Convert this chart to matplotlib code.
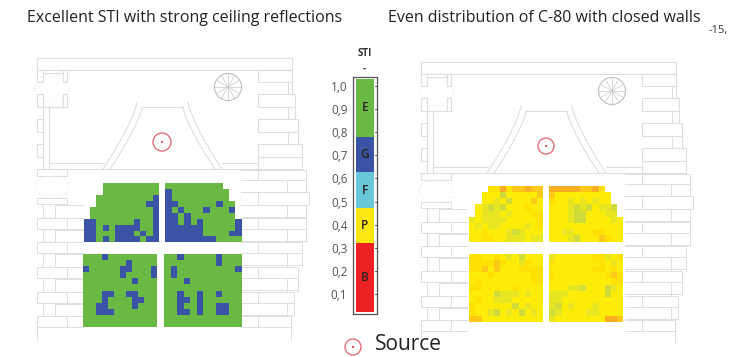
import numpy as np
import matplotlib
matplotlib.use("Agg")
import matplotlib.pyplot as plt
from matplotlib.colors import ListedColormap, BoundaryNorm
from matplotlib.patches import Rectangle, Circle

# ---- data ----
sti_classes = ["B", "P", "F", "G", "E"]
sti_edges = [0.02, 0.32, 0.47, 0.63, 0.78, 1.03]
sti_colors = ["#ed2024", "#fbe711", "#69c7da", "#3a53a4", "#6ab945"]
sti_ticks = [0.1, 0.2, 0.3, 0.4, 0.5, 0.6, 0.7, 0.8, 0.9, 1.0]

sti_upper_left = ["...EEEEEEEEE", "...EEEEEEEEE", "..EEEEEEEEEG", "..EEEEEEEEGG", ".EEEEEEEEEEG",
                  ".EEEEEEEEEEG", "GGEEEEEEGEEG", "GGEGEGGGGEEG", "GGEEEGGGEGEG", "GGEGEGGGGEGG"]
sti_upper_right = ["EEEEEEEEE...", "GEEEEEEEEE..", "GEEEEEEEEE..", "GGEEEEEEGEE.", "GEGEEEGEEEG.",
                   "GGEGEEEEEEE.", "GGEGEGEEEEEG", "GGGGGGEEEEEG", "GGGGGGEEEEGG", "GGGGGGGGEEEE"]
sti_lower_left = ["EEEGEEEEEEEE", "EEEEEEEGEEEE", "GEEEEEGGEEEG", "EEEEEEGEEEEG", "EEEEEEEEGEEE",
                  "EEEEEEEEEEEE", "EEEGGEEGGEEE", "EEEGEEEEGGEE", "EEGGEEEEGEEE", "EEGGGEEEEEEE",
                  "EEEEEEEEEEEE", "EEEEEEEEEEEE"]
sti_lower_right = ["EEGEEEEEGEEE", "EEEEEEEEGEEE", "EGEEEEEEEEEG", "EGEEEEEEEEEE", "EEEGEEEEEEEE",
                   "EEEEEEEEEEEE", "EEGEEGEEGEEE", "EEGGEGEEEEEE", "EEGEEGEEGGEE", "EEGGEGEEGGEE",
                   "EEEEEEEEEEEE", "EEEEEEEEEEEE"]

c80_upper_left = ["...335344544", "..2220222224", "..2212022242", ".21010222322", ".21112122233",
                  "121111222223", "212112222123", "223222101222", "223322111211"]
c80_upper_right = ["555554453...", "4222222222..", "3221212122..", "22210102110.", "22210022211.",
                   "222100222212", "222222222222", "221122233222", "222102224322"]
c80_lower_left = ["332232120222", "333343221322", "334242223333", "222322222233", "232222222233",
                  "332222232222", "222201112122", "232211122222", "322222202122", "322102120212",
                  "442222222222"]
c80_lower_right = ["122222233123", "322222223212", "222222233232", "322222222343", "222222222233",
                   "222110222012", "111222222022", "112222222222", "102122212222", "012222112222",
                   "122222222554"]
c80_colors = ["#cfdb38", "#e8e522", "#fdec08", "#ffe105", "#fdc816", "#f9ad20"]

title_left = "Excellent STI with strong ceiling reflections"
title_right = "Even distribution of C-80 with closed walls"
legend_label = "Source"
corner_label = "-15,"

# ---- setup ----
plt.rcParams["font.family"] = ["Open Sans", "DejaVu Sans"]
W, H = 729, 357
fig = plt.figure(figsize=(W / 100, H / 100), dpi=100, facecolor="white")
ax = fig.add_axes([0, 0, 1, 1])
ax.set_xlim(0, W)
ax.set_ylim(H, 0)
ax.axis("off")

LINE = "#dedede"


def rect(x0, y0, x1, y1, dx, dy, lw=0.8):
    ax.add_patch(Rectangle((x0 + dx, y0 + dy), x1 - x0, y1 - y0, fill=False, ec=LINE, lw=lw, zorder=1))


def seg(xs, ys, dx, dy, lw=0.8, color=LINE, **kw):
    ax.plot(np.asarray(xs) + dx, np.asarray(ys) + dy, color=color, lw=lw, zorder=1, **kw)


def plan(dx, dy):
    rect(37, 58, 292, 70, dx, dy)
    for y0, y1 in [(70, 82), (94, 107), (119, 132), (144, 157)]:
        rect(37, y0, 43, y1, dx, dy)
    for y0, y1 in [(70, 82), (94, 107)]:
        rect(63, y0, 67, y1, dx, dy)
    seg([43, 63], [73, 73], dx, dy)
    seg([37, 67], [107, 107], dx, dy)
    seg([43, 43], [107, 169], dx, dy)
    seg([49, 49], [107, 169], dx, dy)
    rect(37, 169, 67, 176, dx, dy)
    seg([49, 104], [163, 163], dx, dy)
    seg([49, 258], [169, 169], dx, dy)
    seg([222, 258], [163, 163], dx, dy)
    # right side rooms, upper part
    for x1, y0, y1 in [(292, 70, 82), (295, 94, 107), (298, 119, 132), (302, 144, 157), (302, 157, 169)]:
        rect(258, y0, x1, y1, dx, dy)
    seg([288, 288], [82, 94], dx, dy)
    seg([292, 292], [82, 94], dx, dy)
    seg([288, 288], [107, 119], dx, dy)
    seg([295, 295], [107, 119], dx, dy)
    seg([288, 288], [132, 144], dx, dy)
    seg([298, 298], [132, 144], dx, dy)
    # central nave trapezoid
    t = np.linspace(0, 1, 20)
    seg(142 - 32 * t ** 1.3, 107 + 62 * t, dx, dy)
    seg(183 + 32 * t ** 1.3, 107 + 62 * t, dx, dy)
    seg(137 - 34 * t ** 1.3, 102 + 67 * t, dx, dy)
    seg(188 + 34 * t ** 1.3, 102 + 67 * t, dx, dy)
    seg([142, 183], [107, 107], dx, dy)
    # door arcs
    a = np.linspace(0, 2 * np.pi, 60)
    seg(52 + 17 * np.cos(a), 88 + 14 * np.sin(a), dx, dy, lw=0.5, color="#ebebeb", ls=(0, (4, 4)))
    seg(52 + 17 * np.cos(a), 187 + 11 * np.sin(a), dx, dy, lw=0.5, color="#ebebeb", ls=(0, (4, 4)))
    # spiral stair
    sx, sy, r = 228, 87, 13.5
    ax.add_patch(Circle((sx + dx, sy + dy), r, fill=False, ec="#b8b8b8", lw=0.7, zorder=1))
    for ang in np.linspace(0, 2 * np.pi, 12, endpoint=False):
        ax.plot([sx + dx, sx + dx + r * np.cos(ang)], [sy + dy, sy + dy + r * np.sin(ang)],
                color="#c8c8c8", lw=0.5, zorder=1)
    # left flank of the audience
    rect(37, 198, 67, 204, dx, dy, lw=0.7)
    left_bricks = [(218, 229), (242, 253), (267, 278), (292, 303), (316, 327)]
    prev = 204
    for y0, y1 in left_bricks:
        rect(37, y0, 67, y1, dx, dy, lw=0.7)
        seg([67, 83], [y0, y0], dx, dy, lw=0.7)
        seg([67, 83], [y1, y1], dx, dy, lw=0.7)
        seg([43, 43], [prev, y0], dx, dy, lw=0.7)
        seg([55, 55], [prev, y0], dx, dy, lw=0.7)
        seg([55, 83], [prev + 1, prev + 1], dx, dy, lw=0.7)
        prev = y1
    seg([37, 37], [327, 340], dx, dy, lw=0.7)
    # right flank of the audience
    right_bricks = [(306, 170, 180), (309, 192, 205), (306, 218, 229), (302, 242, 253),
                    (298, 267, 278), (294, 292, 303), (291, 316, 327)]
    px1 = None
    for x1, y0, y1 in right_bricks:
        rect(258, y0, x1, y1, dx, dy, lw=0.7)
        seg([241, 258], [y0, y0], dx, dy, lw=0.7)
        seg([241, 258], [y1, y1], dx, dy, lw=0.7)
        if px1 is not None:
            seg([px1, px1], [py1, y0], dx, dy, lw=0.7)
            seg([287, 287], [py1, y0], dx, dy, lw=0.7)
            seg([241, px1], [py1 + 12, py1 + 12], dx, dy, lw=0.7)
        px1, py1 = min(x1, 306), y1
    seg([291, 291], [327, 340], dx, dy, lw=0.7)


def source(x, y, r):
    ax.add_patch(Circle((x, y), r, fill=False, ec="#e0626a", lw=0.9, zorder=4))
    ax.add_patch(Circle((x, y), 1.0, fc="#d8303a", ec="none", zorder=4))


def mesh(rows, extent, cmap, norm, decode):
    arr = np.ma.masked_invalid(np.array([[decode(c) for c in r] for r in rows], dtype=float))
    x0, x1, y0, y1 = extent
    xe = np.linspace(x0, x1, arr.shape[1] + 1)
    ye = np.linspace(y0, y1, arr.shape[0] + 1)
    ax.pcolormesh(xe, ye, arr, cmap=cmap, norm=norm, zorder=3, linewidth=0, edgecolors="none", antialiased=False)


plan(0, 0)
plan(384, 4)

sti_cmap = ListedColormap(["#6ab945", "#3a53a4"])
sti_norm = BoundaryNorm([-0.5, 0.5, 1.5], 2)
dec_sti = lambda c: {"E": 0, "G": 1}.get(c, np.nan)
mesh(sti_upper_left, (84, 159, 183.3, 242.3), sti_cmap, sti_norm, dec_sti)
mesh(sti_upper_right, (165.3, 241.7, 183.3, 242.3), sti_cmap, sti_norm, dec_sti)
mesh(sti_lower_left, (83.3, 156.7, 254.3, 326.7), sti_cmap, sti_norm, dec_sti)
mesh(sti_lower_right, (164.3, 241.7, 254.3, 326.7), sti_cmap, sti_norm, dec_sti)

c_cmap = ListedColormap(c80_colors)
c_norm = BoundaryNorm(np.arange(-0.5, 6.5), 6)
dec_c = lambda c: np.nan if c == "." else int(c)
mesh(c80_upper_left, (469.3, 543.3, 185.7, 241.7), c_cmap, c_norm, dec_c)
mesh(c80_upper_right, (549.3, 623.3, 185.7, 241.7), c_cmap, c_norm, dec_c)
mesh(c80_lower_left, (469.3, 543.3, 253.7, 321.7), c_cmap, c_norm, dec_c)
mesh(c80_lower_right, (549.3, 623.3, 253.7, 321.7), c_cmap, c_norm, dec_c)

source(162, 142, 9)
source(546, 146, 8)
source(353, 347, 8)

ax.text(27, 18, title_left, fontsize=11.5, color="#222222", va="center", ha="left")
ax.text(388, 18, title_right, fontsize=11.5, color="#222222", va="center", ha="left")
ax.text(709, 31, corner_label, fontsize=8, color="#333333", va="center", ha="left", clip_on=True)
ax.text(375, 344, legend_label, fontsize=15, color="#222222", va="center", ha="left")
ax.text(364.5, 53, "STI", fontsize=7, fontweight="bold", color="#333333", va="center", ha="center")
ax.text(364.5, 68, "-", fontsize=7, fontweight="bold", color="#333333", va="center", ha="center")

# ---- colour scale (own axis, real value scale) ----
px_per_unit = (294 - 86) / 0.9
bar_top, bar_bot = 76.7, 314.0
vmax = 1.0 + (86 - bar_top) / px_per_unit
vmin = 0.1 - (bar_bot - 294) / px_per_unit
cax = fig.add_axes([353 / W, 1 - bar_bot / H, 24 / W, (bar_bot - bar_top) / H])
cax.set_xlim(0, 1)
cax.set_ylim(vmin, vmax)
for lo, hi, col, name in zip(sti_edges[:-1], sti_edges[1:], sti_colors, sti_classes):
    cax.bar(0.5, hi - lo, bottom=lo, width=0.78, color=col, linewidth=0)
    cax.text(0.5, (lo + hi) / 2, name, fontsize=8.5, fontweight="semibold", color="#2a2020", ha="center", va="center")
cax.set_xticks([])
cax.set_yticks(sti_ticks)
cax.set_yticklabels([f"{v:.1f}".replace(".", ",") for v in sti_ticks], fontsize=8.5, color="#555555")
cax.tick_params(axis="y", length=0, pad=4)
for v in sti_ticks:
    cax.plot([0.93, 1.0], [v, v], color="#444444", lw=0.6)
for s in cax.spines.values():
    s.set_color("#555555")
    s.set_linewidth(0.9)

fig.savefig("out.png", dpi=100, facecolor="white")
